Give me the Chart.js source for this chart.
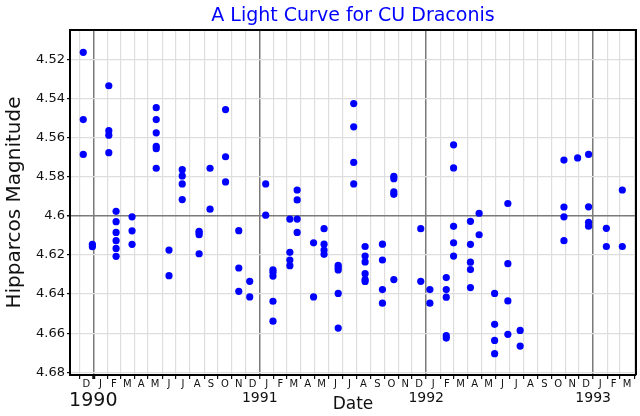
<!DOCTYPE html>
<html>
<head>
<meta charset="utf-8">
<script src="https://cdn.jsdelivr.net/npm/chart.js@4/dist/chart.umd.min.js"></script>
<style>
  html, body { margin: 0; padding: 0; background: #fff; }
  #wrap { width: 640px; height: 416px; }
</style>
</head>
<body>
<div id="wrap"><canvas id="lightCurve" width="640" height="416"></canvas></div>
<script>
// observation nights and the magnitudes measured on each of them
const nightDates = [
  '1989-12-10', '1989-12-30', '1990-02-04', '1990-02-20', '1990-03-27',
  '1990-05-19', '1990-06-16', '1990-07-15', '1990-08-21', '1990-09-14',
  '1990-10-18', '1990-11-16', '1990-12-10', '1991-01-14', '1991-01-30',
  '1991-03-08', '1991-03-24', '1991-04-29', '1991-05-22', '1991-06-22',
  '1991-07-26', '1991-08-20', '1991-09-27', '1991-10-22', '1991-12-20',
  '1992-01-09', '1992-02-14', '1992-03-01', '1992-04-07', '1992-04-26',
  '1992-05-30', '1992-06-28', '1992-07-25', '1992-10-29', '1992-11-28',
  '1992-12-22', '1993-01-30', '1993-03-06'
];
const nightMags = [
  [4.5164, 4.5508, 4.5686],
  [4.6146, 4.6158],
  [4.5335, 4.5565, 4.5588, 4.5677],
  [4.5977, 4.6030, 4.6085, 4.6127, 4.6167, 4.6207],
  [4.6005, 4.6077, 4.6146],
  [4.5447, 4.5508, 4.5576, 4.5645, 4.5657, 4.5757],
  [4.6175, 4.6306],
  [4.5764, 4.5796, 4.5837, 4.5917],
  [4.6079, 4.6087, 4.6097, 4.6194],
  [4.5757, 4.5966],
  [4.5457, 4.5698, 4.5827],
  [4.6076, 4.6267, 4.6386],
  [4.6335, 4.6415],
  [4.5837, 4.5997],
  [4.6276, 4.6288, 4.6308, 4.6437, 4.6539],
  [4.6017, 4.6187, 4.6226, 4.6255],
  [4.5868, 4.5919, 4.6017, 4.6085],
  [4.6138, 4.6415],
  [4.6066, 4.6145, 4.6175, 4.6197],
  [4.6253, 4.6265, 4.6277, 4.6397, 4.6574],
  [4.5426, 4.5545, 4.5727, 4.5837],
  [4.6157, 4.6206, 4.6236, 4.6296, 4.6326, 4.6336],
  [4.6145, 4.6226, 4.6377, 4.6447],
  [4.5798, 4.5810, 4.5878, 4.5890, 4.6326],
  [4.6066, 4.6335],
  [4.6377, 4.6447],
  [4.6316, 4.6377, 4.6416, 4.6613, 4.6625],
  [4.5637, 4.5755, 4.6054, 4.6138, 4.6206],
  [4.6028, 4.6146, 4.6237, 4.6275, 4.6367],
  [4.5987, 4.6097],
  [4.6397, 4.6555, 4.6637, 4.6705],
  [4.5937, 4.6245, 4.6435, 4.6606],
  [4.6586, 4.6666],
  [4.5715, 4.5955, 4.6005, 4.6127],
  [4.5704],
  [4.5686, 4.5954, 4.6033, 4.6053],
  [4.6064, 4.6157],
  [4.5868, 4.6157]
];

const monthLetters = ['J', 'F', 'M', 'A', 'M', 'J', 'J', 'A', 'S', 'O', 'N', 'D'];
const yearLabels = ['1990', '1991', '1992', '1993'];
const magTicks = [4.52, 4.54, 4.56, 4.58, 4.60, 4.62, 4.64, 4.66, 4.68];

const FONT = 'DejaVu Sans';
const epoch = Date.UTC(1990, 0, 1);

function dayOffset(y, m, d) {
  return (Date.UTC(y, m, d) - epoch) / 86400000;
}
function parseDay(s) {
  const [y, m, d] = s.split('-').map(Number);
  return dayOffset(y, m - 1, d);
}

const points = [];
nightDates.forEach((d, i) => {
  const x = parseDay(d);
  nightMags[i].forEach(v => points.push({ x: x, y: v }));
});

// month edges get the grid line + tick mark, mid-month gets the letter
function monthTicks() {
  const ticks = [];
  for (let k = 0; k <= 40; k++) {
    const m = 11 + k; // Dec 1989 onwards
    const edge = dayOffset(1989, m, 1);
    ticks.push({ value: edge, lbl: '', edge: true, jan: m % 12 === 0 });
    if (k < 40) {
      const next = dayOffset(1989, m + 1, 1);
      ticks.push({ value: (edge + next) / 2, lbl: monthLetters[m % 12], edge: false });
    }
  }
  return ticks;
}

const xMin = -51.2, xMax = 1190;

const framePlugin = {
  id: 'frame',
  afterDraw(chart) {
    const { ctx, chartArea: a } = chart;
    ctx.save();
    ctx.strokeStyle = '#000';
    ctx.lineWidth = 2;
    ctx.beginPath();
    ctx.moveTo(a.left, a.top);
    ctx.lineTo(a.right, a.top);
    ctx.lineTo(a.right, a.bottom);
    ctx.stroke();
    ctx.restore();
  }
};

new Chart(document.getElementById('lightCurve'), {
  type: 'scatter',
  data: {
    datasets: [{
      data: points,
      backgroundColor: '#0000ff',
      borderWidth: 0,
      pointRadius: 3.6,
      pointHoverRadius: 3.6
    }]
  },
  options: {
    responsive: false,
    animation: false,
    layout: { padding: { left: 0, right: 4, top: 0, bottom: 1.4 } },
    plugins: {
      legend: { display: false },
      tooltip: { enabled: false },
      title: {
        display: true,
        text: 'A Light Curve for CU Draconis',
        color: '#0000ff',
        fullSize: false,
        font: { family: FONT, size: 19, weight: 'normal' },
        padding: { top: 4.6, bottom: 2.6 }
      }
    },
    scales: {
      x: {
        type: 'linear',
        position: 'bottom',
        weight: 0,
        min: xMin,
        max: xMax,
        afterBuildTicks: s => { s.ticks = monthTicks(); },
        grid: {
          color: c => (!c.tick || !c.tick.edge) ? 'rgba(0,0,0,0)' : (c.tick.jan ? '#7a7a7a' : '#dedede'),
          lineWidth: c => (c.tick && c.tick.jan) ? 1.5 : 1.2,
          tickColor: c => (c.tick && c.tick.edge) ? '#111' : 'rgba(0,0,0,0)',
          tickWidth: c => (c.tick && c.tick.value === 0) ? 3 : 1.2,
          tickLength: 4
        },
        border: { color: '#000', width: 2 },
        ticks: {
          autoSkip: false,
          maxRotation: 0,
          minRotation: 0,
          padding: 0,
          color: '#111',
          font: { family: FONT, size: 10, lineHeight: 1 },
          callback: (v, i, t) => t[i].lbl
        }
      },
      x2: {
        type: 'linear',
        position: 'bottom',
        weight: 1,
        min: xMin,
        max: xMax,
        afterBuildTicks: s => {
          s.ticks = yearLabels.map(y => ({ value: dayOffset(+y, 0, 1), lbl: y }));
        },
        grid: { display: false, drawTicks: false },
        border: { display: false },
        ticks: {
          autoSkip: false,
          maxRotation: 0,
          minRotation: 0,
          padding: 1,
          color: '#111',
          font: c => ({ family: FONT, size: (c.tick && c.tick.value === 0) ? 19 : 14 }),
          callback: (v, i, t) => t[i].lbl
        },
        title: {
          display: true,
          text: 'Date',
          color: '#111',
          font: { family: FONT, size: 17 },
          padding: { top: -19.6, bottom: 0 }
        }
      },
      y: {
        reverse: true,
        min: 4.505,
        max: 4.6814,
        afterBuildTicks: s => { s.ticks = magTicks.map(v => ({ value: v })); },
        grid: {
          color: c => (c.tick && Math.abs(c.tick.value - 4.6) < 1e-6) ? '#7a7a7a' : '#dedede',
          lineWidth: c => (c.tick && Math.abs(c.tick.value - 4.6) < 1e-6) ? 1.5 : 1.2,
          tickColor: '#111',
          tickLength: 3
        },
        border: { color: '#000', width: 2 },
        ticks: {
          padding: 2,
          color: '#111',
          font: { family: FONT, size: 13 },
          callback: v => String(+v.toFixed(2))
        },
        title: {
          display: true,
          text: 'Hipparcos Magnitude',
          color: '#111',
          font: { family: FONT, size: 20 },
          padding: { top: 3, bottom: 7 }
        }
      }
    }
  },
  plugins: [framePlugin]
});
</script>
</body>
</html>
